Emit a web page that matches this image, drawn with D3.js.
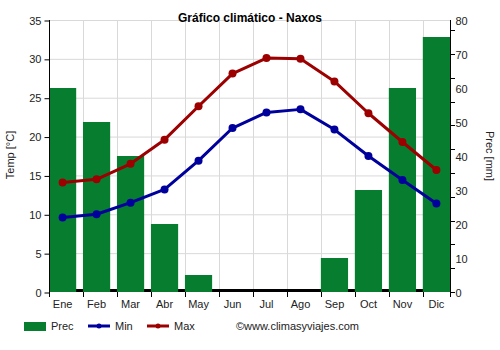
<!DOCTYPE html>
<html><head><meta charset="utf-8">
<script src="https://cdn.jsdelivr.net/npm/d3@7"></script>
<style>body{margin:0;background:#fff}svg{display:block;font-family:"Liberation Sans",Arial,sans-serif}</style>
</head><body><svg id="c" width="500" height="350"></svg>
<script>
const months = ["Ene","Feb","Mar","Abr","May","Jun","Jul","Ago","Sep","Oct","Nov","Dic"];
const prec = [60,50,40,20,5,0,0,0,10,30,60,75];
const tMin = [9.6,10.0,11.5,13.2,16.9,21.1,23.1,23.5,20.9,17.5,14.4,11.4];
const tMax = [14.1,14.5,16.5,19.6,23.9,28.1,30.1,30.0,27.1,23.0,19.3,15.7];
const tempTicks = [0,5,10,15,20,25,30,35];
const precTicks = [0,10,20,30,40,50,60,70,80];
const precMinorTicks = [0,7,14,21,28,35,42,49,56,63,70,77];

const L=49, R=450, T=20, B=292;
const svg = d3.select("#c");
const x = d3.scaleBand().domain(months).range([L,R]).paddingInner(0.2).paddingOuter(0);
const yT = d3.scaleLinear().domain([0,35]).range([B,T]);
const yP = d3.scaleLinear().domain([0,80]).range([B,T]);
const green="#077d30", blue="#00009c", red="#9c0000", grid="#d9d9d9", txt="#222";

// grid
svg.append("g").selectAll("line").data(tempTicks.slice(1)).join("line")
  .attr("x1",L).attr("x2",R).attr("y1",d=>yT(d)+0.5).attr("y2",d=>yT(d)+0.5)
  .attr("stroke",grid).attr("stroke-width",1);
svg.append("g").selectAll("line").data(months.slice(1)).join("line")
  .attr("x1",d=>Math.round(x(d))+0.5).attr("x2",d=>Math.round(x(d))+0.5).attr("y1",T).attr("y2",B)
  .attr("stroke",grid).attr("stroke-width",1);

// thick base line
svg.append("rect").attr("x",L).attr("y",B-3).attr("width",R-L).attr("height",3).attr("fill","#000");

// bars
svg.append("g").selectAll("rect").data(months).join("rect")
  .attr("x",d=>x(d)).attr("width",x.bandwidth())
  .attr("y",(d,i)=>yP(prec[i])).attr("height",(d,i)=>B-yP(prec[i]))
  .attr("fill",green);

// axes
const axL = d3.axisLeft(yT).tickValues(tempTicks).tickSize(5).tickPadding(3);
const gL = svg.append("g").attr("transform",`translate(${L+0.5},0.5)`).call(axL);
const axR = d3.axisRight(yP).tickValues(precTicks).tickSize(0).tickPadding(5);
const gR = svg.append("g").attr("transform",`translate(${R+0.5},0.5)`).call(axR);
svg.append("g").selectAll("line").data(precMinorTicks).join("line")
  .attr("x1",R).attr("x2",R+5).attr("y1",d=>Math.round(yP(d))+0.5).attr("y2",d=>Math.round(yP(d))+0.5)
  .attr("stroke","#000");
const axB = d3.axisBottom(x).tickSize(0).tickPadding(8);
const gB = svg.append("g").attr("transform",`translate(0,${B})`).call(axB);
gB.select(".domain").remove();
svg.append("g").selectAll("line").data(months.concat(["__end"])).join("line")
  .attr("x1",d=>d==="__end"?R+0.5:Math.round(x(d))+0.5).attr("x2",d=>d==="__end"?R+0.5:Math.round(x(d))+0.5)
  .attr("y1",B).attr("y2",B+5).attr("stroke","#000");
[gL,gR,gB].forEach(g=>{
  g.selectAll("text").attr("fill",txt).style("font-size","11px").style("font-family","'Liberation Sans',Arial,sans-serif");
  g.select(".domain").attr("stroke","#000");
  g.selectAll(".tick line").attr("stroke","#000");
});
gL.select(".domain").attr("d",`M0,${T-0.5}V${B-0.5}`);
gR.select(".domain").attr("d",`M0,${T-0.5}V${B-0.5}`);

// lines
const cx = i => x(months[i]) + x.bandwidth()/2;
function series(data,color){
  svg.append("path").datum(data)
    .attr("d",d3.line().x((d,i)=>cx(i)).y(d=>yT(d)))
    .attr("fill","none").attr("stroke",color).attr("stroke-width",3).attr("stroke-linejoin","round");
  svg.append("g").selectAll("circle").data(data).join("circle")
    .attr("cx",(d,i)=>cx(i)).attr("cy",d=>yT(d)).attr("r",4).attr("fill",color);
}
series(tMin,blue);
series(tMax,red);

// titles
svg.append("text").attr("x",250).attr("y",22).attr("text-anchor","middle")
  .style("font-size","12px").style("font-weight","bold").attr("fill","#000").text("Gráfico climático - Naxos");
svg.append("text").attr("transform","translate(14,155) rotate(-90)").attr("text-anchor","middle")
  .style("font-size","11px").attr("fill",txt).text("Temp [°C]");
svg.append("text").attr("transform","translate(486,156) rotate(90)").attr("text-anchor","middle")
  .style("font-size","11px").attr("fill",txt).text("Prec [mm]");

// legend
const lg = svg.append("g");
lg.append("rect").attr("x",24).attr("y",322).attr("width",22).attr("height",9).attr("fill",green);
lg.append("text").attr("x",51).attr("y",330).style("font-size","11px").attr("fill",txt).text("Prec");
[[88,blue,"Min"],[147,red,"Max"]].forEach(([lx,c,t])=>{
  lg.append("line").attr("x1",lx).attr("x2",lx+22).attr("y1",326).attr("y2",326).attr("stroke",c).attr("stroke-width",3);
  lg.append("circle").attr("cx",lx+11).attr("cy",326).attr("r",2.5).attr("fill",c);
  lg.append("text").attr("x",lx+27).attr("y",330).style("font-size","11px").attr("fill",txt).text(t);
});
lg.append("text").attr("x",236).attr("y",330).style("font-size","11px").attr("fill",txt).text("©www.climasyviajes.com");
</script></body></html>
